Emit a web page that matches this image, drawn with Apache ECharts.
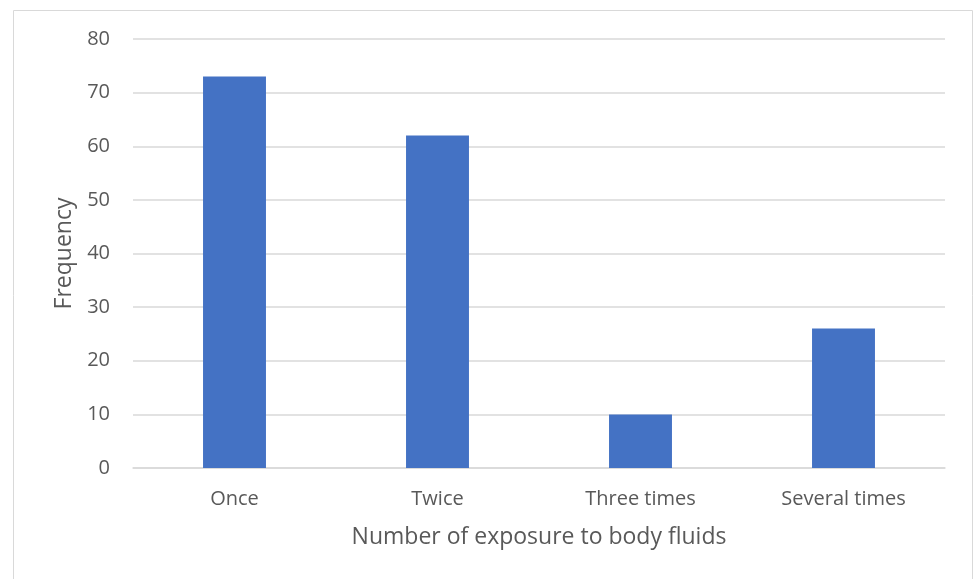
<!DOCTYPE html>
<html>
<head>
<meta charset="utf-8">
<script src="https://cdn.jsdelivr.net/npm/echarts@6/dist/echarts.min.js"></script>
<style>
  html, body { margin: 0; padding: 0; background: #fff; }
  #chart { width: 974px; height: 579px; }
</style>
</head>
<body>
<div id="chart"></div>
<script>
const categories = ["Once", "Twice", "Three times", "Several times"];
const frequency = [73, 62, 10, 26];
const yTicks = [0, 10, 20, 30, 40, 50, 60, 70, 80];

const chart = echarts.init(document.getElementById("chart"));
const font = "'Open Sans', 'Noto Sans', sans-serif";
const textColor = "#595959";

chart.setOption({
  animation: false,
  graphic: [
    {
      type: "rect",
      shape: { x: 13.5, y: 10.5, width: 959, height: 600 },
      style: { fill: "none", stroke: "#d9d9d9", lineWidth: 1 }
    }
  ],
  grid: { left: 133, right: 29, top: 39, bottom: 111 },
  xAxis: {
    type: "category",
    data: categories,
    axisTick: { show: false },
    axisLine: { lineStyle: { color: "#d9d9d9", width: 1.5 } },
    axisLabel: { color: textColor, fontFamily: font, fontSize: 20, margin: 21 },
    name: "Number of exposure to body fluids",
    nameLocation: "middle",
    nameGap: 58,
    nameTextStyle: { color: textColor, fontFamily: font, fontSize: 23 }
  },
  yAxis: {
    type: "value",
    min: yTicks[0],
    max: yTicks[yTicks.length - 1],
    interval: 10,
    axisLine: { show: false },
    axisTick: { show: false },
    splitLine: { lineStyle: { color: "#d9d9d9", width: 1.5 } },
    axisLabel: { color: textColor, fontFamily: font, fontSize: 20, margin: 23 },
    name: "Frequency",
    nameLocation: "middle",
    nameGap: 56,
    nameTextStyle: { color: textColor, fontFamily: font, fontSize: 23 }
  },
  series: [
    {
      type: "bar",
      data: frequency,
      barWidth: "31%",
      itemStyle: { color: "#4472c4" }
    }
  ]
});
</script>
</body>
</html>
